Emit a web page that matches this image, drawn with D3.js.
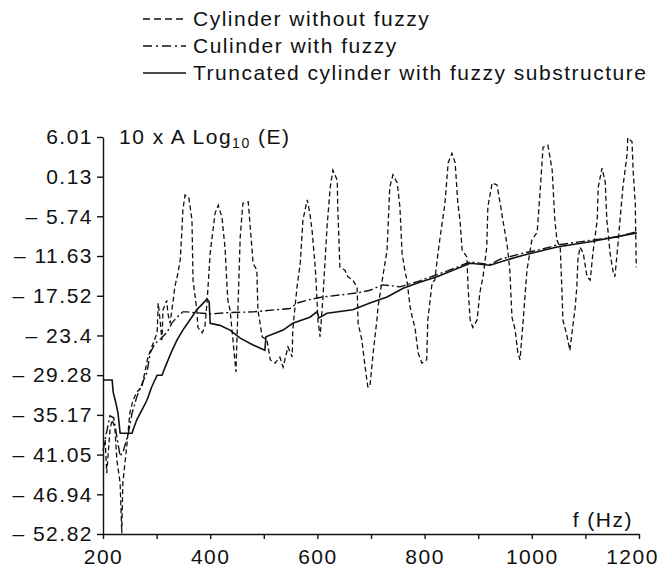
<!DOCTYPE html>
<html>
<head>
  <meta charset="utf-8">
  <title>Cylinder response</title>
  <script src="https://d3js.org/d3.v7.min.js"></script>
  <style>
    body { margin: 0; background: #fff; }
    text { font-family: "Liberation Sans", Arial, sans-serif; font-size: 21px; letter-spacing: 1.5px; fill: #111; }
    .axis path, .axis line { stroke: #111; stroke-width: 1.4; }
    .curve { fill: none; stroke: #111; }
  </style>
</head>
<body>
<script>
  const width = 660, height = 570;

  // frequency (Hz), 10 x A log10(E)
  const noFuzzy = [[204,-38.9],[207,-43.8],[213,-37.4],[217,-35.9],[222,-37.0],[226,-41.9],[232,-45.3],[235,-52.7],[237,-45.3],[241,-42.3],[245,-39.3],[250,-34.9],[256,-33.0],[263,-31.8],[273,-31.0],[275,-30.0],[284,-26.6],[291,-25.1],[301,-23.0],[303,-18.6],[306,-20.7],[310,-24.1],[312,-19.6],[319,-18.2],[321,-20.1],[325,-21.6],[331,-18.2],[334,-16.2],[340,-14.1],[344,-12.2],[347,-8.2],[349,-4.8],[353,-2.6],[360,-2.9],[366,-6.3],[368,-15.2],[375,-19.6],[377,-22.2],[385,-23.0],[390,-22.2],[394,-18.6],[400,-11.2],[409,-5.3],[415,-4.1],[422,-5.9],[428,-10.7],[431,-15.6],[433,-18.2],[437,-19.6],[443,-24.5],[448,-28.8],[456,-8.8],[461,-3.8],[471,-3.6],[480,-12.7],[487,-13.7],[489,-19.6],[497,-23.6],[506,-24.1],[512,-27.0],[521,-27.5],[530,-26.6],[536,-28.1],[545,-25.1],[553,-26.6],[554,-22.6],[562,-16.2],[568,-12.7],[573,-6.3],[581,-3.3],[586,-5.3],[590,-7.8],[596,-13.3],[599,-17.7],[601,-21.1],[605,-23.6],[610,-18.2],[618,-7.3],[624,-1.4],[629,1.1],[637,-0.4],[638,-4.4],[642,-13.3],[651,-13.7],[657,-14.7],[666,-15.2],[674,-16.2],[676,-21.6],[683,-24.1],[689,-28.1],[694,-31.0],[698,-31.0],[704,-26.0],[711,-21.1],[713,-19.2],[722,-14.7],[730,-10.7],[735,-1.4],[741,0.4],[749,-0.8],[754,-4.4],[758,-11.2],[763,-13.7],[767,-15.2],[773,-19.2],[777,-20.7],[782,-22.2],[788,-26.0],[795,-27.5],[804,-27.0],[806,-21.1],[814,-15.6],[819,-15.2],[825,-11.2],[829,-8.8],[838,-3.8],[844,2.2],[851,3.6],[857,2.2],[862,-3.8],[866,-6.3],[870,-10.7],[879,-11.8],[881,-16.2],[885,-21.1],[890,-22.2],[898,-21.1],[903,-17.1],[909,-14.7],[916,-10.3],[918,-4.4],[926,-0.8],[935,-1.1],[941,-3.8],[946,-6.3],[954,-10.0],[959,-13.7],[963,-20.7],[969,-22.6],[974,-26.0],[978,-27.0],[984,-21.1],[991,-13.7],[1000,-9.3],[1010,-8.1],[1015,-2.6],[1021,4.5],[1030,4.8],[1038,1.1],[1043,-6.3],[1047,-9.3],[1053,-10.3],[1056,-16.2],[1058,-21.1],[1066,-23.6],[1071,-25.6],[1075,-23.0],[1081,-19.2],[1084,-16.2],[1086,-12.2],[1090,-10.3],[1096,-11.2],[1103,-14.7],[1109,-15.2],[1114,-11.2],[1122,-6.3],[1124,-1.4],[1131,1.4],[1137,-0.7],[1140,-6.3],[1142,-7.8],[1146,-11.2],[1152,-14.1],[1155,-14.7],[1161,-9.7],[1165,-5.9],[1170,-1.4],[1178,3.6],[1179,5.9],[1187,5.3],[1189,1.1],[1193,-3.8],[1194,-8.8],[1195,-13.3]];

  const withFuzzy = [[200,-40.5],[207,-37.6],[213,-35.3],[220,-35.6],[226,-38.5],[232,-41.3],[238,-40.5],[247,-38.0],[254,-35.0],[263,-32.5],[273,-30.5],[282,-28.9],[288,-26.0],[297,-24.6],[306,-24.0],[319,-23.0],[329,-21.5],[338,-20.7],[349,-19.9],[357,-19.9],[366,-20.0],[385,-20.1],[400,-20.2],[437,-20.0],[480,-19.9],[549,-19.4],[562,-18.6],[590,-18.0],[610,-17.7],[674,-17.1],[698,-16.7],[722,-15.9],[754,-16.2],[791,-15.3],[823,-14.4],[850,-13.6],[885,-12.5],[922,-12.9],[941,-12.1],[984,-11.2],[1015,-10.7],[1047,-10.0],[1109,-9.3],[1160,-8.8],[1196,-8.0]];

  const truncated = [[200,-30.0],[217,-30.0],[219,-31.8],[224,-33.4],[228,-34.9],[232,-37.9],[254,-37.9],[256,-37.4],[263,-35.9],[273,-34.4],[282,-33.0],[291,-31.0],[301,-29.3],[310,-29.3],[319,-27.5],[329,-25.6],[338,-24.1],[349,-22.6],[362,-21.1],[375,-19.6],[387,-18.6],[394,-18.0],[398,-18.4],[400,-21.6],[418,-21.9],[437,-22.6],[456,-23.8],[480,-24.8],[502,-25.6],[504,-23.6],[536,-22.6],[554,-21.6],[586,-20.7],[599,-19.9],[603,-20.8],[618,-20.1],[666,-19.6],[698,-18.6],[730,-17.7],[760,-16.4],[791,-15.5],[823,-14.7],[885,-12.7],[922,-13.0],[941,-12.5],[984,-11.5],[1047,-10.3],[1109,-9.5],[1196,-8.2]];

  const yTicks = [6.01, 0.13, -5.74, -11.63, -17.52, -23.4, -29.28, -35.17, -41.05, -46.94, -52.82];
  const yTickLabels = ["6.01", "0.13", "– 5.74", "– 11.63", "– 17.52", "– 23.4", "– 29.28", "– 35.17", "– 41.05", "– 46.94", "– 52.82"];
  const xTicks = [200, 300, 400, 500, 600, 700, 800, 900, 1000, 1100, 1200];

  const series = [
    { name: "Cylinder without fuzzy", data: noFuzzy, dash: "5,3", legendDash: "7,4", w: 1.3 },
    { name: "Culinder with fuzzy", data: withFuzzy, dash: "9,3,2,3", legendDash: "9,4,2,4", w: 1.4 },
    { name: "Truncated cylinder with fuzzy substructure", data: truncated, dash: null, legendDash: null, w: 1.6 }
  ];

  const svg = d3.select("body").append("svg")
    .attr("width", width).attr("height", height);

  const x = d3.scaleLinear().domain([200, 1200]).range([103, 639]);
  const y = d3.scaleLinear().domain([-52.82, 6.01]).range([534, 137]);

  // axes
  svg.append("g").attr("class", "axis")
    .attr("transform", "translate(0,534)")
    .call(d3.axisBottom(x).tickValues(xTicks).tickSize(5).tickSizeOuter(0).tickPadding(10)
      .tickFormat(d => d % 200 === 0 ? d : ""))
    .call(g => g.selectAll("text").attr("fill", "#111").attr("font-size", null).attr("font-family", null))
    .call(g => g.selectAll(".tick:last-of-type text").attr("dx", "-7"));

  svg.append("g").attr("class", "axis")
    .attr("transform", "translate(103,0)")
    .call(d3.axisLeft(y).tickValues(yTicks).tickSize(6).tickSizeOuter(0).tickPadding(4)
      .tickFormat((d, i) => yTickLabels[i]))
    .call(g => g.selectAll("text").attr("fill", "#111").attr("font-size", null).attr("font-family", null));

  // axis titles
  const yt = svg.append("text").attr("x", 119).attr("y", 144);
  yt.append("tspan").text("10 x A Log");
  yt.append("tspan").attr("font-size", "14px").attr("dy", 4).text("10");
  yt.append("tspan").attr("dy", -4).text(" (E)");

  svg.append("text").attr("x", 633).attr("y", 527).attr("text-anchor", "end").text("f (Hz)");

  // curves
  const line = d3.line().x(d => x(d[0])).y(d => y(d[1]));
  series.forEach(s => {
    svg.append("path").attr("class", "curve")
      .attr("d", line(s.data))
      .attr("stroke-width", s.w)
      .attr("stroke-dasharray", s.dash);
  });

  // legend
  const legend = svg.append("g");
  series.forEach((s, i) => {
    const ly = 19 + i * 27;
    legend.append("line").attr("class", "curve")
      .attr("x1", 143).attr("x2", 186).attr("y1", ly).attr("y2", ly)
      .attr("stroke-width", s.w).attr("stroke-dasharray", s.legendDash);
    legend.append("text").attr("x", 193).attr("y", ly + 7).text(s.name);
  });
</script>
</body>
</html>
